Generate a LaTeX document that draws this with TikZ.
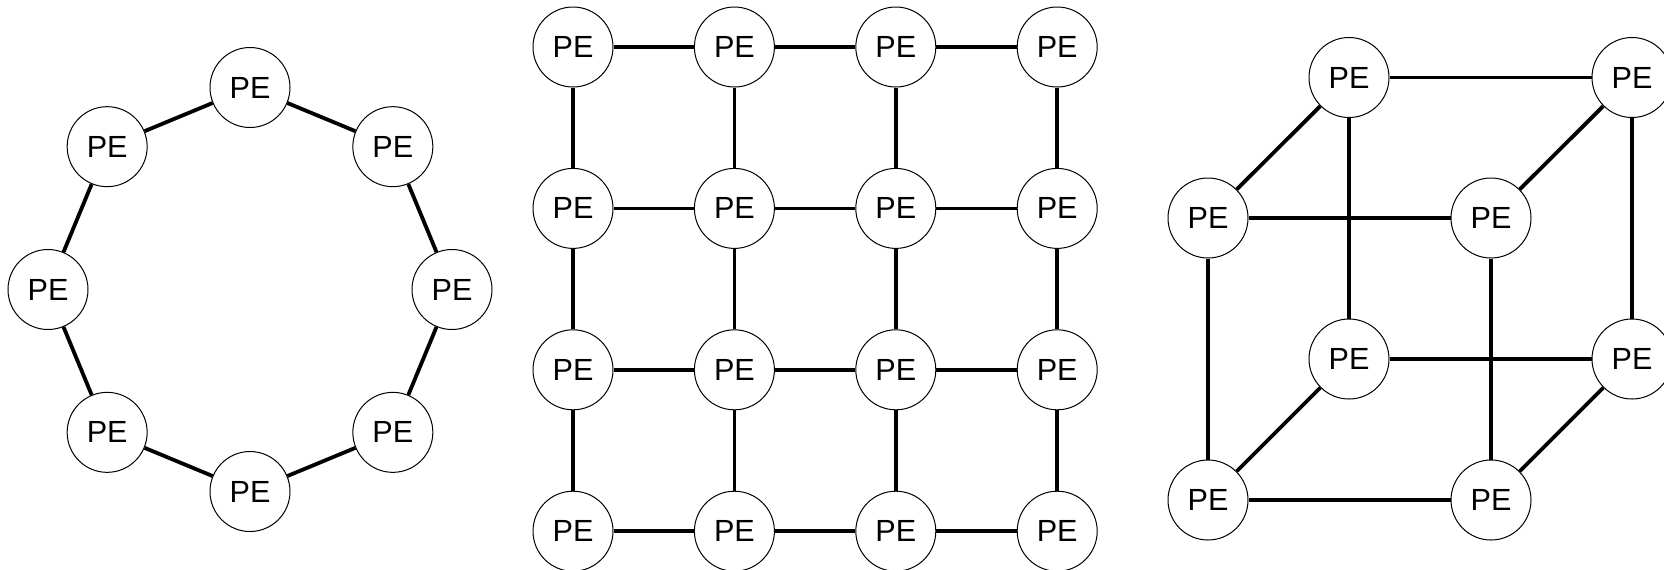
\documentclass[tikz,border=0pt]{standalone}
\usepackage{fontspec}
\setmainfont{Liberation Sans}
\begin{document}
\begin{tikzpicture}[x=0.5pt,y=-0.5pt,
  pe/.style={circle, draw, line width=0.5pt, fill=white, minimum size=40pt,
    inner sep=0pt, font=\fontsize{15.3}{15.3}\selectfont},
  link/.style={line width=1.9pt}]
\useasboundingbox (0,0) rectangle (1664,569);

% ring of eight processing elements
\foreach \i in {0,...,7}
  \node[pe] (r\i) at ({250+202*cos(90-45*\i)}, {289.5-202*sin(90-45*\i)}) {PE};
\foreach \i [evaluate=\i as \j using {int(mod(\i+1,8))}] in {0,...,7}
  \draw[link] (r\i) -- (r\j);

% 4x4 mesh
\foreach \c in {0,...,3}
  \foreach \r in {0,...,3}
    \node[pe] (g\c\r) at ({573+161.4*\c}, {47+161.4*\r}) {PE};
\foreach \c [evaluate=\c as \n using {int(\c+1)}] in {0,1,2}
  \foreach \r in {0,...,3} {
    \draw[link] (g\c\r) -- (g\n\r);
    \draw[link] (g\r\c) -- (g\r\n);
  }

% hypercube (3-cube): back face, front face, depth edges
\node[pe] (btl) at (1349,77.5) {PE};
\node[pe] (btr) at (1632,77.5) {PE};
\node[pe] (bbl) at (1349,359) {PE};
\node[pe] (bbr) at (1632,359) {PE};
\node[pe] (ftl) at (1208,218) {PE};
\node[pe] (ftr) at (1491,218) {PE};
\node[pe] (fbl) at (1208,500) {PE};
\node[pe] (fbr) at (1491,500) {PE};
\draw[link] (btl) -- (btr);
\draw[link] (btl) -- (bbl);
\draw[link] (btr) -- (bbr);
\draw[link] (bbl) -- (bbr);
\draw[link] (ftl) -- (ftr);
\draw[link] (ftl) -- (fbl);
\draw[link] (ftr) -- (fbr);
\draw[link] (fbl) -- (fbr);
\draw[link] (ftl) -- (btl);
\draw[link] (ftr) -- (btr);
\draw[link] (fbl) -- (bbl);
\draw[link] (fbr) -- (bbr);
\end{tikzpicture}
\end{document}
